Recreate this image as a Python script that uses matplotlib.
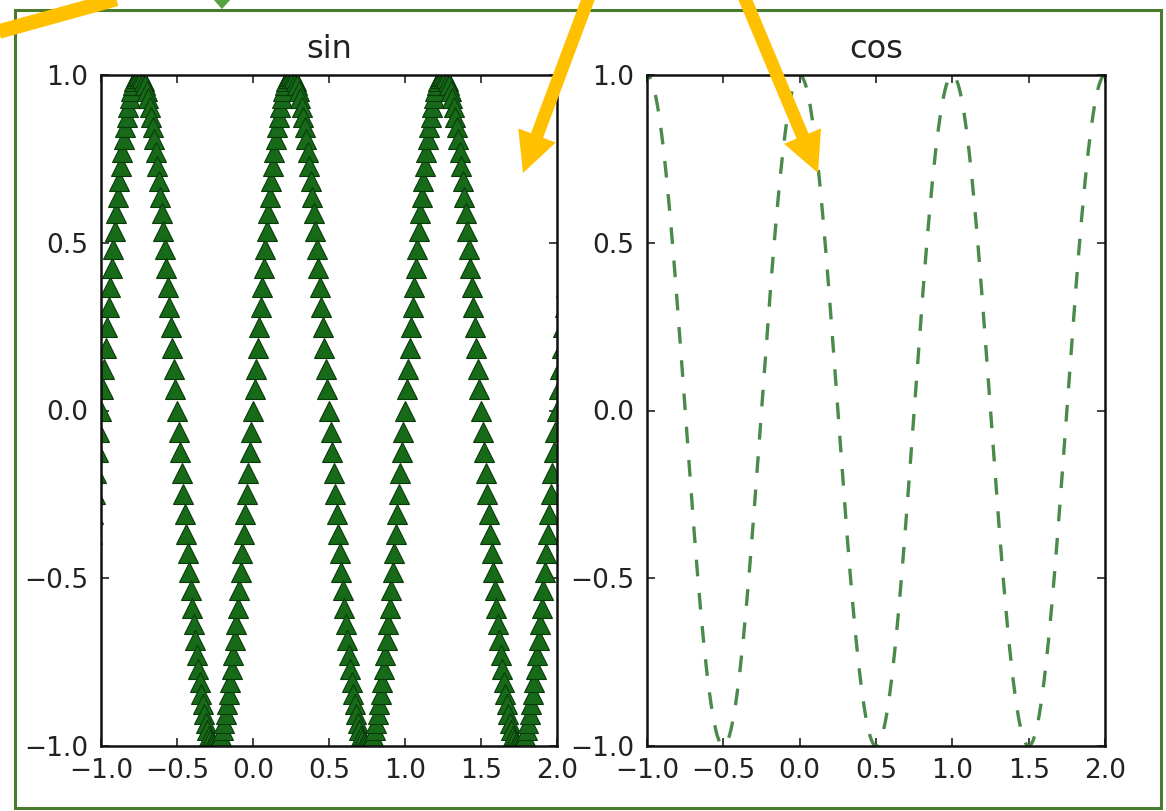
import matplotlib
matplotlib.use('Agg')
import matplotlib.pyplot as plt
from matplotlib.patches import Rectangle, FancyArrow, Polygon
import numpy as np

# ---------------- data ----------------
titles = ['sin', 'cos']
x_first, x_last = -1.08, 2.08          # sampling grid, step 0.01
x_ticks = [-1.0, -0.5, 0.0, 0.5, 1.0, 1.5, 2.0]
y_ticks = [-1.0, -0.5, 0.0, 0.5, 1.0]

sin_y = [
    -0.482, -0.426, -0.368, -0.309, -0.249, -0.187, -0.125, -0.063,
    # x = -1.00 .. -0.01
    0.000, 0.063, 0.125, 0.187, 0.249, 0.309, 0.368, 0.426, 0.482, 0.536,
    0.588, 0.637, 0.685, 0.729, 0.771, 0.809, 0.844, 0.876, 0.905, 0.930,
    0.951, 0.969, 0.982, 0.992, 0.998, 1.000, 0.998, 0.992, 0.982, 0.969,
    0.951, 0.930, 0.905, 0.876, 0.844, 0.809, 0.771, 0.729, 0.685, 0.637,
    0.588, 0.536, 0.482, 0.426, 0.368, 0.309, 0.249, 0.187, 0.125, 0.063,
    0.000, -0.063, -0.125, -0.187, -0.249, -0.309, -0.368, -0.426, -0.482, -0.536,
    -0.588, -0.637, -0.685, -0.729, -0.771, -0.809, -0.844, -0.876, -0.905, -0.930,
    -0.951, -0.969, -0.982, -0.992, -0.998, -1.000, -0.998, -0.992, -0.982, -0.969,
    -0.951, -0.930, -0.905, -0.876, -0.844, -0.809, -0.771, -0.729, -0.685, -0.637,
    -0.588, -0.536, -0.482, -0.426, -0.368, -0.309, -0.249, -0.187, -0.125, -0.063,
    # x = 0.00 .. 0.99
    0.000, 0.063, 0.125, 0.187, 0.249, 0.309, 0.368, 0.426, 0.482, 0.536,
    0.588, 0.637, 0.685, 0.729, 0.771, 0.809, 0.844, 0.876, 0.905, 0.930,
    0.951, 0.969, 0.982, 0.992, 0.998, 1.000, 0.998, 0.992, 0.982, 0.969,
    0.951, 0.930, 0.905, 0.876, 0.844, 0.809, 0.771, 0.729, 0.685, 0.637,
    0.588, 0.536, 0.482, 0.426, 0.368, 0.309, 0.249, 0.187, 0.125, 0.063,
    0.000, -0.063, -0.125, -0.187, -0.249, -0.309, -0.368, -0.426, -0.482, -0.536,
    -0.588, -0.637, -0.685, -0.729, -0.771, -0.809, -0.844, -0.876, -0.905, -0.930,
    -0.951, -0.969, -0.982, -0.992, -0.998, -1.000, -0.998, -0.992, -0.982, -0.969,
    -0.951, -0.930, -0.905, -0.876, -0.844, -0.809, -0.771, -0.729, -0.685, -0.637,
    -0.588, -0.536, -0.482, -0.426, -0.368, -0.309, -0.249, -0.187, -0.125, -0.063,
    # x = 1.00 .. 1.99
    0.000, 0.063, 0.125, 0.187, 0.249, 0.309, 0.368, 0.426, 0.482, 0.536,
    0.588, 0.637, 0.685, 0.729, 0.771, 0.809, 0.844, 0.876, 0.905, 0.930,
    0.951, 0.969, 0.982, 0.992, 0.998, 1.000, 0.998, 0.992, 0.982, 0.969,
    0.951, 0.930, 0.905, 0.876, 0.844, 0.809, 0.771, 0.729, 0.685, 0.637,
    0.588, 0.536, 0.482, 0.426, 0.368, 0.309, 0.249, 0.187, 0.125, 0.063,
    0.000, -0.063, -0.125, -0.187, -0.249, -0.309, -0.368, -0.426, -0.482, -0.536,
    -0.588, -0.637, -0.685, -0.729, -0.771, -0.809, -0.844, -0.876, -0.905, -0.930,
    -0.951, -0.969, -0.982, -0.992, -0.998, -1.000, -0.998, -0.992, -0.982, -0.969,
    -0.951, -0.930, -0.905, -0.876, -0.844, -0.809, -0.771, -0.729, -0.685, -0.637,
    -0.588, -0.536, -0.482, -0.426, -0.368, -0.309, -0.249, -0.187, -0.125, -0.063,
    # x = 2.00 .. 2.08
    0.000, 0.063, 0.125, 0.187, 0.249, 0.309, 0.368, 0.426, 0.482,
]

cos_y = [
    0.876, 0.905, 0.930, 0.951, 0.969, 0.982, 0.992, 0.998,
    # x = -1.00 .. -0.01
    1.000, 0.998, 0.992, 0.982, 0.969, 0.951, 0.930, 0.905, 0.876, 0.844,
    0.809, 0.771, 0.729, 0.685, 0.637, 0.588, 0.536, 0.482, 0.426, 0.368,
    0.309, 0.249, 0.187, 0.125, 0.063,
    0.000, -0.063, -0.125, -0.187, -0.249, -0.309, -0.368, -0.426, -0.482, -0.536,
    -0.588, -0.637, -0.685, -0.729, -0.771, -0.809, -0.844, -0.876, -0.905, -0.930,
    -0.951, -0.969, -0.982, -0.992, -0.998,
    -1.000, -0.998, -0.992, -0.982, -0.969, -0.951, -0.930, -0.905, -0.876, -0.844,
    -0.809, -0.771, -0.729, -0.685, -0.637, -0.588, -0.536, -0.482, -0.426, -0.368,
    -0.309, -0.249, -0.187, -0.125, -0.063,
    0.000, 0.063, 0.125, 0.187, 0.249, 0.309, 0.368, 0.426, 0.482, 0.536,
    0.588, 0.637, 0.685, 0.729, 0.771, 0.809, 0.844, 0.876, 0.905, 0.930,
    0.951, 0.969, 0.982, 0.992, 0.998,
    # x = 0.00 .. 0.99
    1.000, 0.998, 0.992, 0.982, 0.969, 0.951, 0.930, 0.905, 0.876, 0.844,
    0.809, 0.771, 0.729, 0.685, 0.637, 0.588, 0.536, 0.482, 0.426, 0.368,
    0.309, 0.249, 0.187, 0.125, 0.063,
    0.000, -0.063, -0.125, -0.187, -0.249, -0.309, -0.368, -0.426, -0.482, -0.536,
    -0.588, -0.637, -0.685, -0.729, -0.771, -0.809, -0.844, -0.876, -0.905, -0.930,
    -0.951, -0.969, -0.982, -0.992, -0.998,
    -1.000, -0.998, -0.992, -0.982, -0.969, -0.951, -0.930, -0.905, -0.876, -0.844,
    -0.809, -0.771, -0.729, -0.685, -0.637, -0.588, -0.536, -0.482, -0.426, -0.368,
    -0.309, -0.249, -0.187, -0.125, -0.063,
    0.000, 0.063, 0.125, 0.187, 0.249, 0.309, 0.368, 0.426, 0.482, 0.536,
    0.588, 0.637, 0.685, 0.729, 0.771, 0.809, 0.844, 0.876, 0.905, 0.930,
    0.951, 0.969, 0.982, 0.992, 0.998,
    # x = 1.00 .. 1.99
    1.000, 0.998, 0.992, 0.982, 0.969, 0.951, 0.930, 0.905, 0.876, 0.844,
    0.809, 0.771, 0.729, 0.685, 0.637, 0.588, 0.536, 0.482, 0.426, 0.368,
    0.309, 0.249, 0.187, 0.125, 0.063,
    0.000, -0.063, -0.125, -0.187, -0.249, -0.309, -0.368, -0.426, -0.482, -0.536,
    -0.588, -0.637, -0.685, -0.729, -0.771, -0.809, -0.844, -0.876, -0.905, -0.930,
    -0.951, -0.969, -0.982, -0.992, -0.998,
    -1.000, -0.998, -0.992, -0.982, -0.969, -0.951, -0.930, -0.905, -0.876, -0.844,
    -0.809, -0.771, -0.729, -0.685, -0.637, -0.588, -0.536, -0.482, -0.426, -0.368,
    -0.309, -0.249, -0.187, -0.125, -0.063,
    0.000, 0.063, 0.125, 0.187, 0.249, 0.309, 0.368, 0.426, 0.482, 0.536,
    0.588, 0.637, 0.685, 0.729, 0.771, 0.809, 0.844, 0.876, 0.905, 0.930,
    0.951, 0.969, 0.982, 0.992, 0.998,
    # x = 2.00 .. 2.08
    1.000, 0.998, 0.992, 0.982, 0.969, 0.951, 0.930, 0.905, 0.876,
]

assert len(sin_y) == len(cos_y) == 317
x = np.linspace(x_first, x_last, len(sin_y))

# ---------------- figure ----------------
plt.rcParams['font.family'] = ['DejaVu Sans']
plt.rcParams['lines.scale_dashes'] = False

W, H = 1166, 811
fig = plt.figure(figsize=(W / 100, H / 100), dpi=100, facecolor='white')

ax1 = fig.add_axes([101 / W, 65 / H, 456 / W, 671 / H])
ax2 = fig.add_axes([647 / W, 65 / H, 458 / W, 671 / H])

ax1.plot(x, sin_y, linestyle='none', marker='^', markersize=14,
         markerfacecolor='#166a18', markeredgecolor='#0a3a0a', markeredgewidth=0.8)
ax2.plot(x, cos_y, linestyle=(0, (12, 12)), color='#4a8a4a', linewidth=2.4)

text_color = '#222222'
for ax, title in zip([ax1, ax2], titles):
    ax.set_xlim(-1.0, 2.0)
    ax.set_ylim(-1.0, 1.0)
    ax.set_xticks(x_ticks)
    ax.set_yticks(y_ticks)
    ax.tick_params(direction='in', length=6, width=1.2, top=True, right=True,
                   labelsize=19, labelcolor=text_color, pad=9, color='#222222')
    for s in ax.spines.values():
        s.set_linewidth(1.8)
        s.set_color('#111111')
    ax.set_title(title, fontsize=23, pad=12, color=text_color)

# ---------------- slide decorations (pixel coordinates) ----------------
ov = fig.add_axes([0, 0, 1, 1], zorder=10)
ov.set_xlim(0, W)
ov.set_ylim(H, 0)
ov.axis('off')
ov.patch.set_alpha(0)

ov.add_patch(Rectangle((15, 10), 1146, 798, fill=False, edgecolor='#4a7a2e', linewidth=2.2))
ov.add_patch(Polygon([(213, -1), (231, -1), (222, 9)], closed=True, facecolor='#55a040', edgecolor='none'))

yellow = '#FFC000'
ov.plot([-10, 120], [34, -2], color=yellow, linewidth=10.5, solid_capstyle='butt')
for (x0, y0, x1, y1) in [(590, -6, 523, 173), (743, -6, 818, 173)]:
    ov.add_patch(FancyArrow(x0, y0, x1 - x0, y1 - y0, width=13, head_width=40,
                            head_length=40, length_includes_head=True,
                            facecolor=yellow, edgecolor='none'))

fig.savefig('out.png', dpi=100, facecolor='white')
